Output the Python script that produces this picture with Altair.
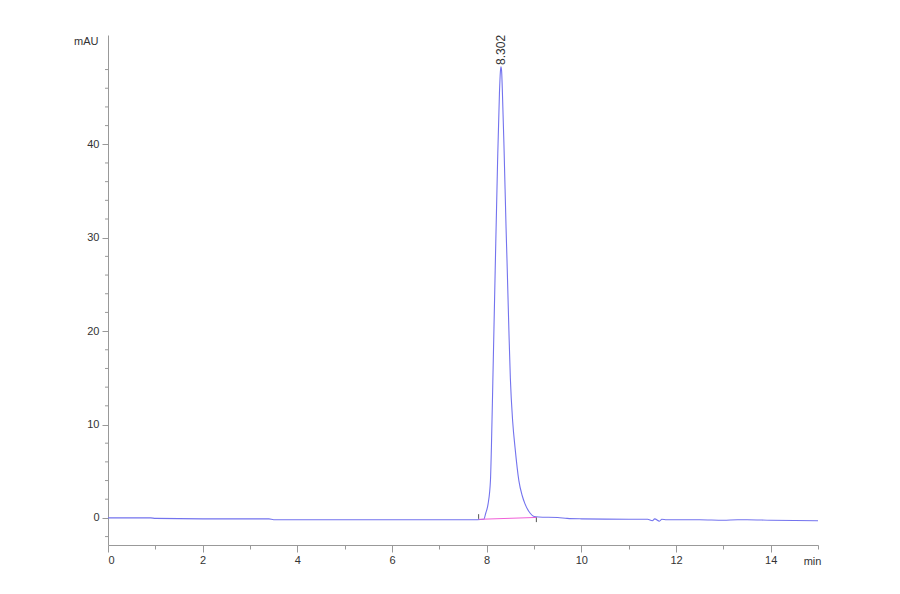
import altair as alt
import pandas as pd

# Chromatogram trace (time in min, signal in mAU)
times = [0.0, 0.9, 1.0, 2.0, 3.4, 3.5, 5.0, 7.0, 7.8, 7.94, 7.98, 8.03, 8.08, 8.10,
         8.13, 8.18, 8.23, 8.27, 8.29, 8.302, 8.315, 8.33, 8.37, 8.41, 8.43, 8.47,
         8.50, 8.55, 8.60, 8.68, 8.75, 8.81, 8.92, 9.0, 9.1, 9.5, 9.7, 10.0, 11.0,
         11.4, 11.5, 11.55, 11.65, 11.7, 11.8, 12.0, 12.5, 13.0, 13.3, 13.5, 14.0, 15.0]
signal = [0.0, 0.0, -0.05, -0.1, -0.1, -0.2, -0.2, -0.2, -0.2, -0.15, 0.5, 1.5, 4.0, 7.5,
          14.5, 26.5, 38.0, 45.5, 47.8, 48.3, 47.9, 46.0, 39.0, 31.0, 27.5, 20.0,
          15.0, 10.3, 7.5, 4.0, 2.4, 1.5, 0.5, 0.15, 0.1, 0.05, -0.05, -0.1, -0.15,
          -0.15, -0.3, -0.1, -0.35, -0.15, -0.2, -0.2, -0.2, -0.25, -0.2, -0.2, -0.25, -0.3]

# Integration baseline
base_x = [7.84, 9.05]
base_y = [-0.15, 0.05]

# Peak label
peak_rt = [8.302]
peak_h = [48.5]
peak_lbl = ["8.302"]

# Integration event ticks
evt_x = [7.83, 9.05]
evt_y1 = [-0.1, 0.05]
evt_y2 = [0.4, -0.45]

x_ticks = [i * 0.5 for i in range(0, 31)]
y_major = [0, 10, 20, 30, 40]
y_minor = [v for v in range(-2, 51, 2) if v % 10 != 0]

trace = pd.DataFrame({"t": times, "s": signal})
base = pd.DataFrame({"t": base_x, "s": base_y})
peak = pd.DataFrame({"t": peak_rt, "s": peak_h, "lbl": peak_lbl})
evt = pd.DataFrame({"t": evt_x, "s1": evt_y1, "s2": evt_y2})
yminor_df = pd.DataFrame({"v": y_minor})

FONT = "Liberation Sans, Arial, sans-serif"

xscale = alt.Scale(domain=[0, 15], nice=False, zero=False)
yscale = alt.Scale(domain=[-2.9, 51.7], nice=False, zero=False)

xaxis = alt.Axis(
    values=x_ticks,
    labelExpr="datum.value % 2 === 0 ? datum.label : ''",
    tickSize={"condition": {"test": "datum.value % 2 === 0", "value": 7}, "value": 4},
    title="min", titleX=704, titleY=16, titleAlign="center", titleBaseline="middle",
    titleFontWeight="normal", titleFont=FONT, titleFontSize=11, titleColor="#333",
    labelPadding=2, grid=False, labelOverlap=False,
)
yaxis = alt.Axis(
    values=y_major, tickSize=6,
    title="mAU", titleAngle=0, titleX=-10, titleY=6, titleAlign="right",
    titleBaseline="middle", titleFontWeight="normal", titleFont=FONT,
    titleFontSize=11, titleColor="#333", labelPadding=3, grid=False,
    labelOverlap=False,
)

line = alt.Chart(trace).mark_line(color="#7373ee", strokeWidth=1.1, interpolate="monotone").encode(
    x=alt.X("t:Q", scale=xscale, axis=xaxis),
    y=alt.Y("s:Q", scale=yscale, axis=yaxis),
)

yminor = alt.Chart(yminor_df).mark_rule(color="#999", strokeWidth=1).encode(
    y=alt.Y("v:Q", scale=yscale), x=alt.value(0), x2=alt.value(-3)
)

bl = alt.Chart(base).mark_line(color="#f060d8", strokeWidth=1).encode(
    x=alt.X("t:Q", scale=xscale), y=alt.Y("s:Q", scale=yscale)
)

ev = alt.Chart(evt).mark_rule(color="#555", strokeWidth=1).encode(
    x=alt.X("t:Q", scale=xscale), y=alt.Y("s1:Q", scale=yscale), y2="s2:Q"
)

lbl = alt.Chart(peak).mark_text(angle=270, align="left", baseline="middle",
                                font=FONT, fontSize=12, color="#333").encode(
    x=alt.X("t:Q", scale=xscale), y=alt.Y("s:Q", scale=yscale), text="lbl:N"
)

chart = alt.layer(line, yminor, bl, ev, lbl).properties(
    width=710, height=510,
    autosize=alt.AutoSizeParams(type="none"),
    padding={"left": 100, "top": 27, "right": 60, "bottom": 40},
).configure_view(stroke=None).configure_axis(
    domainColor="#999", tickColor="#999", labelColor="#333",
    labelFont=FONT, labelFontSize=11,
)

chart.save("out.html", embed_options={"renderer": "svg", "actions": False})
